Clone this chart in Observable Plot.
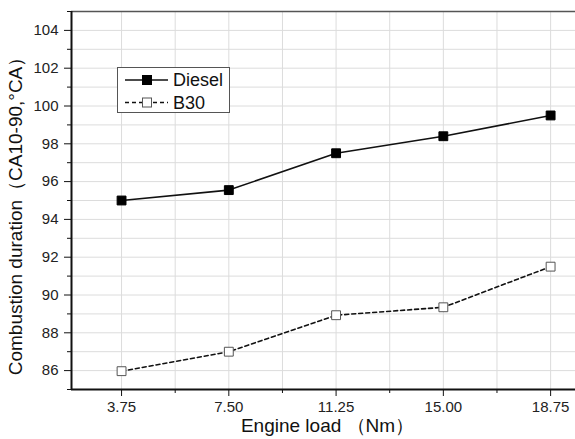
<!DOCTYPE html>
<html>
<head>
<meta charset="utf-8">
<script src="https://cdn.jsdelivr.net/npm/d3@7"></script>
<script src="https://cdn.jsdelivr.net/npm/@observablehq/plot@0.6"></script>
<style>
  html, body { margin: 0; padding: 0; background: #fff; }
  #wrap { position: relative; width: 575px; height: 439px; overflow: hidden; }
  #wrap svg { font-family: Arial, "Liberation Sans", sans-serif; }
  #legend { position: absolute; left: 0; top: 0; }
</style>
</head>
<body>
<div id="wrap"></div>
<script>
// ---- data ----
const loads = [3.75, 7.50, 11.25, 15.00, 18.75];
const diesel = [95.0, 95.55, 97.5, 98.4, 99.5];
const b30 = [85.97, 87.0, 88.93, 89.35, 91.5];
const seriesNames = ["Diesel", "B30"];
const xTicks = [3.75, 7.50, 11.25, 15.00, 18.75];
const xMinorTicks = [5.625, 9.375, 13.125, 16.875];
const yTicks = [86, 88, 90, 92, 94, 96, 98, 100, 102, 104];
const yMinorTicks = [85, 87, 89, 91, 93, 95, 97, 99, 101, 103, 105];
const xTitle = "Engine load （Nm）";
const yTitle = "Combustion duration（CA10-90,°CA）";

const dieselData = loads.map((x, i) => ({x, y: diesel[i]}));
const b30Data = loads.map((x, i) => ({x, y: b30[i]}));
const gridX = [...xTicks, ...xMinorTicks];
const gridY = d3.range(85, 106, 1);

const chart = Plot.plot({
  width: 575,
  height: 439,
  marginLeft: 71,
  marginRight: 0,
  marginTop: 11,
  marginBottom: 50,
  style: {fontFamily: 'Arial, "Liberation Sans", sans-serif', fontSize: "15px", color: "#222", background: "#fff"},
  x: {domain: [2.0, 19.62]},
  y: {domain: [85, 105]},
  marks: [
    Plot.ruleX(gridX, {stroke: "#dcdcdc", strokeWidth: 1}),
    Plot.ruleY(gridY, {stroke: "#dcdcdc", strokeWidth: 1}),
    Plot.axisX({ticks: xTicks, tickFormat: d => d.toFixed(2), tickSize: 7, tickPadding: 5,
      label: null, stroke: "#111"}),
    Plot.axisX({ticks: xMinorTicks, tickFormat: () => "", tickSize: 4, label: null, stroke: "#111"}),
    Plot.axisY({ticks: yTicks, tickFormat: d => String(d), tickSize: 7, tickPadding: 6,
      label: null, stroke: "#111"}),
    Plot.axisY({ticks: yMinorTicks, tickFormat: () => "", tickSize: 4, label: null, stroke: "#111"}),
    Plot.text([xTitle], {text: d => d, frameAnchor: "bottom", dy: 36, dx: 4, textAnchor: "middle", lineAnchor: "middle", fontSize: 19, fill: "#111"}),
    Plot.text([yTitle], {text: d => d, frameAnchor: "left", dx: -56, dy: 11, rotate: -90, textAnchor: "middle", lineAnchor: "middle", fontSize: 19, fill: "#111"}),
    Plot.ruleY([105], {stroke: "#555", strokeWidth: 1.5}),
    Plot.ruleY([85], {stroke: "#111", strokeWidth: 2}),
    Plot.ruleX([2.0], {stroke: "#111", strokeWidth: 2}),
    Plot.line(b30Data, {x: "x", y: "y", stroke: "#111", strokeWidth: 1.6, strokeDasharray: "4,3"}),
    Plot.dot(b30Data, {x: "x", y: "y", symbol: "square", r: 5, fill: "#fff", stroke: "#555", strokeWidth: 1}),
    Plot.line(dieselData, {x: "x", y: "y", stroke: "#111", strokeWidth: 1.6}),
    Plot.dot(dieselData, {x: "x", y: "y", symbol: "square", r: 5, fill: "#000", stroke: "#000", strokeWidth: 1})
  ]
});
document.getElementById("wrap").appendChild(chart);

// ---- legend overlay ----
const lg = d3.select("#wrap").append("svg").attr("id", "legend")
  .attr("width", 575).attr("height", 439)
  .style("font-family", 'Arial, "Liberation Sans", sans-serif');
lg.append("rect").attr("x", 117.5).attr("y", 67.5).attr("width", 112).attr("height", 45)
  .attr("fill", "#fff").attr("stroke", "#555").attr("stroke-width", 1);
seriesNames.forEach((name, i) => {
  const cy = 80 + i * 22.5;
  lg.append("line").attr("x1", 125).attr("x2", 168).attr("y1", cy).attr("y2", cy)
    .attr("stroke", "#111").attr("stroke-width", 1.6)
    .attr("stroke-dasharray", i === 0 ? null : "4,3");
  lg.append("rect").attr("x", 142.5).attr("y", cy - 4.5).attr("width", 9).attr("height", 9)
    .attr("fill", i === 0 ? "#000" : "#fff").attr("stroke", i === 0 ? "#000" : "#555");
  lg.append("text").attr("x", 173).attr("y", cy).attr("dy", "0.35em")
    .attr("font-size", 18).attr("fill", "#111").text(name);
});
</script>
</body>
</html>
